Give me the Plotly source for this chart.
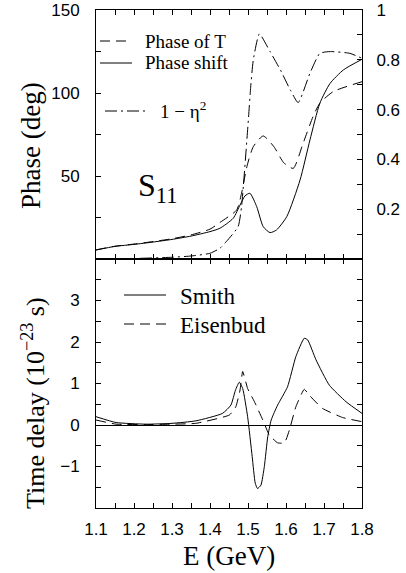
import plotly.graph_objects as go

# ---------------- data ----------------
E_shift = [1.10, 1.15, 1.20, 1.25, 1.30, 1.35, 1.40, 1.426, 1.461, 1.479, 1.492, 1.505, 1.523,
           1.540, 1.558, 1.575, 1.602, 1.637, 1.663, 1.689, 1.716, 1.751, 1.80]
phase_shift = [5.4, 7.6, 8.8, 10.2, 11.8, 13.8, 16.5, 18.5, 24.5, 32.5, 38.0, 39.6, 31.5,
               19.5, 15.9, 17.5, 25.5, 47.6, 71.7, 93.8, 105.8, 113.9, 120.3]

E_T = [1.10, 1.15, 1.20, 1.25, 1.30, 1.35, 1.40, 1.426, 1.470, 1.483, 1.497, 1.514, 1.540,
       1.568, 1.594, 1.619, 1.645, 1.671, 1.689, 1.724, 1.80]
phase_T = [5.5, 7.7, 9.0, 10.5, 12.2, 14.5, 18.0, 22.0, 29.5, 39.6, 55.6, 67.7, 74.1,
           67.7, 58.0, 54.6, 69.7, 85.7, 93.8, 100.8, 106.8]

E_eta = [1.10, 1.20, 1.30, 1.35, 1.40, 1.426, 1.443, 1.474, 1.483, 1.501, 1.507, 1.514, 1.530,
         1.558, 1.585, 1.611, 1.632, 1.663, 1.689, 1.716, 1.768, 1.80]
one_minus_eta2 = [0.0, 0.002, 0.007, 0.012, 0.023, 0.043, 0.07, 0.13, 0.21, 0.56, 0.69, 0.80, 0.904,
                  0.833, 0.76, 0.68, 0.628, 0.746, 0.826, 0.833, 0.826, 0.806]

E_smith = [1.10, 1.153, 1.232, 1.30, 1.363, 1.433, 1.455, 1.467, 1.477, 1.486, 1.499, 1.511,
           1.519, 1.525, 1.534, 1.543, 1.552, 1.561, 1.578, 1.604, 1.626, 1.648, 1.657,
           1.679, 1.714, 1.758, 1.80]
smith = [0.20, 0.06, 0.02, 0.04, 0.10, 0.28, 0.48, 0.84, 1.03, 0.88, 0.20, -0.76,
         -1.40, -1.53, -1.45, -1.00, -0.28, 0.12, 0.48, 0.92, 1.65, 2.09, 2.05,
         1.57, 0.96, 0.56, 0.28]

E_eis = [1.10, 1.153, 1.232, 1.30, 1.363, 1.451, 1.468, 1.479, 1.486, 1.499, 1.517, 1.539,
         1.556, 1.578, 1.596, 1.609, 1.626, 1.648, 1.661, 1.696, 1.749, 1.80]
eisenbud = [0.12, 0.02, 0.01, 0.02, 0.04, 0.24, 0.44, 0.84, 1.29, 0.88, 0.56, 0.12,
            -0.24, -0.43, -0.43, -0.12, 0.44, 0.86, 0.72, 0.40, 0.18, 0.08]

# tick values / labels
x_tickvals = [1.1, 1.2, 1.3, 1.4, 1.5, 1.6, 1.7, 1.8]
x_ticktext = ["1.1", "1.2", "1.3", "1.4", "1.5", "1.6", "1.7", "1.8"]
x_minorvals = [1.15, 1.25, 1.35, 1.45, 1.55, 1.65, 1.75]
phase_tickvals = [50, 100, 150]
phase_ticktext = ["50", "100", "150"]
phase_minorvals = [25, 75, 125]
eta_tickvals = [0.2, 0.4, 0.6, 0.8, 1.0]
eta_ticktext = ["0.2", "0.4", "0.6", "0.8", "1"]
eta_minorvals = [0.1, 0.3, 0.5, 0.7, 0.9]
td_tickvals = [-1, 0, 1, 2, 3]
td_ticktext = ["\u22121", "0", "1", "2", "3"]
td_minorvals = [-1.5, -0.5, 0.5, 1.5, 2.5, 3.5]

# ---------------- figure ----------------
W, H = 406, 573
PW, PH = 266, 498            # plot area size
ML, MT = 96, 10
MR, MB = W - ML - PW, H - MT - PH

def px(x):
    return (x - ML) / PW

def py(y):
    return (H - MB - y) / PH

SERIF = "Liberation Serif"
SANS = "Liberation Sans"
DASH = "10px,6px"
DASHDOT = "12px,4px,2px,4px"
line_kw = dict(color="black", width=1)

fig = go.Figure()
fig.add_trace(go.Scatter(x=E_T, y=phase_T, mode="lines", name="Phase of T",
                         line=dict(dash=DASH, shape="spline", smoothing=0.6, **line_kw),
                         xaxis="x2", yaxis="y2", showlegend=False))
fig.add_trace(go.Scatter(x=E_shift, y=phase_shift, mode="lines", name="Phase shift",
                         line=dict(shape="spline", smoothing=0.6, **line_kw),
                         xaxis="x2", yaxis="y2", showlegend=False))
fig.add_trace(go.Scatter(x=E_eta, y=one_minus_eta2, mode="lines", name="1 \u2212 \u03b7\u00b2",
                         line=dict(dash=DASHDOT, shape="spline", smoothing=0.5, **line_kw),
                         xaxis="x2", yaxis="y3", showlegend=False))
fig.add_trace(go.Scatter(x=E_smith, y=smith, mode="lines", name="Smith",
                         line=dict(shape="spline", smoothing=0.5, **line_kw),
                         xaxis="x", yaxis="y", showlegend=False))
fig.add_trace(go.Scatter(x=E_eis, y=eisenbud, mode="lines", name="Eisenbud",
                         line=dict(dash=DASH, shape="spline", smoothing=0.4, **line_kw),
                         xaxis="x", yaxis="y", showlegend=False))

tickfont = dict(family=SANS, size=17, color="black")
common = dict(showline=True, linecolor="black", linewidth=1, ticks="inside", ticklen=5,
              tickwidth=1, tickcolor="black", showgrid=False, automargin=False,
              tickfont=tickfont, tickmode="array")

def minor(vals):
    return dict(tickmode="array", tickvals=vals, ticks="inside", ticklen=5,
                tickwidth=1, tickcolor="black", showgrid=False)

fig.update_layout(
    width=W, height=H, margin=dict(l=ML, r=MR, t=MT, b=MB, autoexpand=False),
    paper_bgcolor="white", plot_bgcolor="white", showlegend=False,
    xaxis=dict(domain=[0, 1], anchor="y", range=[1.1, 1.8], mirror="ticks", zeroline=False,
               tickvals=x_tickvals, ticktext=x_ticktext, minor=minor(x_minorvals),
               ticklabelstandoff=6, **common),
    yaxis=dict(domain=[0, 0.5], anchor="x", range=[-2, 4], mirror="ticks",
               tickvals=td_tickvals, ticktext=td_ticktext, minor=minor(td_minorvals),
               ticklabelstandoff=12, zeroline=True, zerolinecolor="black", zerolinewidth=1,
               **common),
    xaxis2=dict(domain=[0, 1], anchor="y2", range=[1.1, 1.8], matches="x", mirror="ticks",
                zeroline=False, tickvals=x_tickvals, ticktext=x_ticktext,
                minor=minor(x_minorvals), showticklabels=False, **common),
    yaxis2=dict(domain=[0.5, 1], anchor="x2", range=[0, 150], zeroline=False,
                tickvals=phase_tickvals, ticktext=phase_ticktext, minor=minor(phase_minorvals),
                ticklabelstandoff=12, ticklabeloverflow="allow", **common),
    yaxis3=dict(domain=[0.5, 1], anchor="x2", overlaying="y2", side="right", range=[0, 1],
                zeroline=False, tickvals=eta_tickvals, ticktext=eta_ticktext,
                minor=minor(eta_minorvals), ticklabelstandoff=10, ticklabeloverflow="allow",
                **common),
)

# legend-like samples and text
samples = [
    (100, 132, 41, DASH, "Phase of T", 143, 41, 19),
    (100, 132, 63, "solid", "Phase shift", 143, 63, 19),
    (105, 147, 111, DASHDOT, "1 \u2212 \u03b7<sup>2</sup>", 158, 110, 19),
    (124, 166, 295, "solid", "Smith", 178, 296, 23),
    (124, 166, 324, DASH, "Eisenbud", 178, 325, 23),
]
for x0, x1, yy, dash, text, tx, ty, fs in samples:
    fig.add_shape(type="line", xref="paper", yref="paper", x0=px(x0), x1=px(x1),
                  y0=py(yy), y1=py(yy), line=dict(color="black", width=1, dash=dash))
    fig.add_annotation(xref="paper", yref="paper", x=px(tx), y=py(ty), text=text,
                       showarrow=False, xanchor="left", yanchor="middle",
                       font=dict(family=SERIF, size=fs, color="black"))

fig.add_annotation(xref="paper", yref="paper", x=px(157), y=py(187), text="S<sub>11</sub>",
                   showarrow=False, xanchor="center", yanchor="middle",
                   font=dict(family=SERIF, size=32, color="black"))

# axis titles
fig.add_annotation(xref="paper", yref="paper", x=px(31), y=py(146), text="Phase (deg)",
                   textangle=-90, showarrow=False, xanchor="center", yanchor="middle",
                   font=dict(family=SERIF, size=27, color="black"))
fig.add_annotation(xref="paper", yref="paper", x=px(33), y=py(403),
                   text="Time delay (10<sup>\u221223</sup> s)",
                   textangle=-90, showarrow=False, xanchor="center", yanchor="middle",
                   font=dict(family=SERIF, size=26, color="black"))
fig.add_annotation(xref="paper", yref="paper", x=px(229), y=py(556), text="E (GeV)",
                   showarrow=False, xanchor="center", yanchor="middle",
                   font=dict(family=SERIF, size=27, color="black"))

# place the figure at the window's top-left corner (remove the page's default body margin)
fig.write_html("out.html", config={"displayModeBar": False},
               post_script="document.body.style.margin='0';")
